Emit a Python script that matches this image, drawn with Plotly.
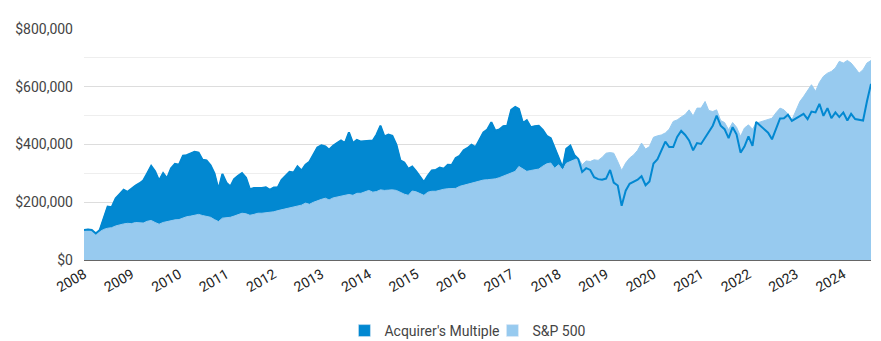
import pandas as pd
import plotly.graph_objects as go

# Monthly portfolio values (USD, thousands), Jan 2008 .. Aug 2024
acquirers_multiple = [
    104, 106, 104, 92, 104, 145, 185, 183, 214, 228, 243, 236,
    248, 258, 265, 275, 300, 326, 307, 275, 301, 283, 318, 333,
    330, 361, 363, 368, 375, 372, 347, 345, 328, 300, 245, 298,
    268, 255, 280, 292, 301, 285, 245, 249, 248, 249, 252, 243,
    251, 252, 278, 292, 305, 303, 324, 310, 330, 340, 368, 390,
    397, 393, 382, 396, 405, 414, 405, 442, 405, 416, 410, 411,
    413, 414, 434, 465, 428, 434, 430, 400, 345, 338, 316, 324,
    307, 288, 270, 292, 310, 312, 320, 316, 330, 329, 353, 361,
    380, 388, 399, 391, 414, 442, 452, 477, 448, 452, 463, 465,
    520, 530, 523, 474, 484, 460, 463, 465, 451, 430, 422, 388,
    350, 320, 385, 396, 364, 350, 305, 318, 312, 287, 280, 278,
    282, 312, 268, 258, 188, 240, 264, 272, 278, 290, 259, 272,
    334, 349, 378, 410, 391, 391, 426, 447, 433, 414, 380, 405,
    402, 425, 445, 465, 500, 465, 453, 422, 460, 435, 372, 393,
    428, 395, 478, 465, 453, 441, 418, 455, 490, 491, 503, 482,
    490, 500, 506, 488, 514, 511, 541, 499, 526, 491, 511, 495,
    511, 483, 506, 488, 485, 483, 550, 610,
]
sp500 = [
    104, 106, 104, 92, 98, 106, 110, 112, 118, 122, 125, 127,
    126, 130, 130, 128, 134, 137, 130, 124, 130, 133, 137, 139,
    140, 146, 150, 152, 155, 158, 154, 152, 148, 140, 133, 145,
    146, 148, 152, 157, 162, 160, 155, 158, 162, 162, 164, 164,
    167, 171, 174, 178, 181, 185, 188, 190, 197, 193, 200, 206,
    210, 214, 208, 215, 218, 220, 223, 227, 224, 231, 231, 236,
    241, 235, 237, 243, 241, 242, 243, 241, 234, 228, 224, 239,
    236, 229, 224, 235, 238, 238, 242, 245, 247, 248, 248, 255,
    259, 261, 265, 270, 275, 277, 278, 279, 281, 285, 290, 295,
    300, 307, 324, 314, 307, 310, 312, 315, 325, 333, 336, 318,
    330, 312, 335, 340, 347, 353, 330, 343, 341, 347, 345, 355,
    370, 372, 370, 341, 310, 336, 353, 364, 380, 405, 384, 393,
    425, 430, 433, 440, 453, 480, 485, 495, 504, 520, 499, 526,
    526, 549, 518, 514, 520, 483, 476, 451, 476, 460, 428, 457,
    468, 453, 474, 478, 482, 485, 491, 510, 526, 520, 506, 485,
    520, 549, 566, 585, 607, 584, 615, 636, 647, 653, 665, 688,
    682, 691, 682, 665, 647, 659, 682, 691,
]
series_names = ["Acquirer's Multiple", "S&P 500"]
year_ticks = [str(y) for y in range(2008, 2025)]
y_ticks = [0, 200000, 400000, 600000, 800000]
y_tick_labels = ["$0", "$200,000", "$400,000", "$600,000", "$800,000"]

dates = pd.date_range(start="2008-01-01", periods=len(sp500), freq="MS")
am_vals = [v * 1000 for v in acquirers_multiple]
sp_vals = [v * 1000 for v in sp500]

DARK = "#0288d1"
LIGHT = "#97caef"

fig = go.Figure()
fig.add_trace(go.Scatter(x=dates, y=am_vals, mode="lines", fill="tozeroy",
                         fillcolor=DARK, line=dict(color=DARK, width=1),
                         showlegend=False, hoverinfo="skip"))
fig.add_trace(go.Scatter(x=dates, y=sp_vals, mode="lines", fill="tozeroy",
                         fillcolor=LIGHT, line=dict(color=LIGHT, width=1),
                         showlegend=False, hoverinfo="skip"))
fig.add_trace(go.Scatter(x=dates, y=am_vals, mode="lines",
                         line=dict(color=DARK, width=2),
                         showlegend=False, name=series_names[0]))
# legend entries
fig.add_trace(go.Bar(x=[None], y=[None], name=series_names[0], marker_color=DARK))
fig.add_trace(go.Bar(x=[None], y=[None], name=series_names[1], marker_color=LIGHT))

fig.update_layout(
    width=881, height=341,
    margin=dict(l=84, r=10, t=29, b=81, autoexpand=False),
    paper_bgcolor="white", plot_bgcolor="white",
    font=dict(family="Roboto, Arial, sans-serif", size=14, color="#444444"),
    showlegend=True,
    legend=dict(orientation="h", x=0.519, xanchor="center",
                yref="container", y=(341 - 331) / 341, yanchor="middle",
                font=dict(size=14, color="#444444"), itemwidth=30,
                entrywidth=103, traceorder="normal"),
)
fig.update_xaxes(
    type="date", automargin=False,
    range=[dates[0], dates[-1]],
    tickvals=[pd.Timestamp(f"{y}-01-01") for y in year_ticks],
    ticktext=year_ticks,
    tickangle=-30,
    showgrid=False, zeroline=False,
    showline=True, linecolor="#666666", linewidth=1,
    ticks="", tickfont=dict(size=14, color="#222222"),
)
fig.update_yaxes(
    range=[0, 800000], automargin=False,
    tickvals=y_ticks, ticktext=y_tick_labels,
    showgrid=True, gridcolor="#dddddd", gridwidth=1,
    minor=dict(dtick=100000, showgrid=True, gridcolor="#eeeeee"),
    zeroline=False, showline=False, ticks="",
    ticklabelstandoff=10,
    tickfont=dict(size=14, color="#444444"),
)

fig.write_html("out.html")
